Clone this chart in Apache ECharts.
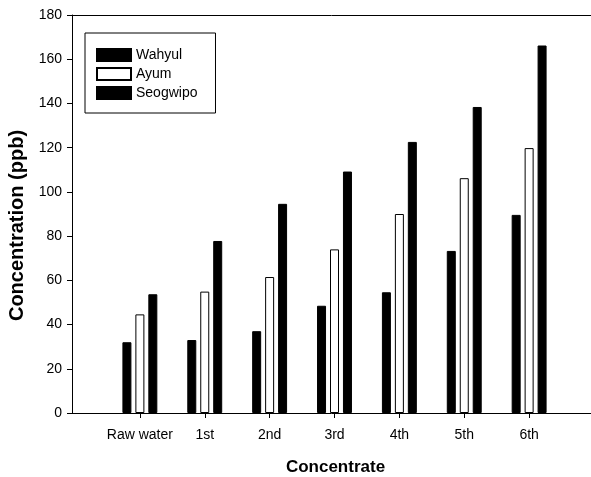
<!DOCTYPE html>
<html>
<head>
<meta charset="utf-8">
<script src="https://cdn.jsdelivr.net/npm/echarts@6/dist/echarts.min.js"></script>
<style>
html,body{margin:0;padding:0;background:#fff;}
#chart{width:591px;height:477px;}
</style>
</head>
<body>
<div id="chart"></div>
<script>
const categories = ["", "Raw water", "1st", "2nd", "3rd", "4th", "5th", "6th", ""];
const wahyul   = [null, 32, 33, 37, 48.5, 54.6, 73.3, 89.6, null];
const ayum     = [null, 44.6, 54.9, 61.5, 74, 90, 106.2, 119.8, null];
const seogwipo = [null, 53.7, 77.8, 94.6, 109.2, 122.6, 138.4, 166.2, null];
const yTicks = [0, 20, 40, 60, 80, 100, 120, 140, 160, 180];

const FONT = "Liberation Sans, Arial, sans-serif";
const chart = echarts.init(document.getElementById('chart'), null, {renderer: 'canvas'});
const hideEnds = (i) => i !== 0 && i !== categories.length - 1;
chart.setOption({
  animation: false,
  backgroundColor: '#fff',
  textStyle: {fontFamily: FONT},
  grid: [
    {left: 75, top: 15, right: -3, bottom: 64, containLabel: false, outerBoundsMode: 'none'},
    {left: 72, top: 15, right: 0, bottom: 64, containLabel: false, outerBoundsMode: 'none'}
  ],
  legend: {
    orient: 'vertical', left: 85, top: 33,
    padding: [15, 18, 13, 11],
    itemWidth: 34, itemHeight: 12, itemGap: 5,
    borderColor: '#000', borderWidth: 1,
    icon: 'rect',
    textStyle: {fontFamily: FONT, fontSize: 14, color: '#000'},
    data: ['Wahyul', 'Ayum', 'Seogwipo']
  },
  xAxis: [{
    gridIndex: 0, type: 'category', data: categories, boundaryGap: false,
    name: 'Concentrate', nameLocation: 'middle', nameGap: 46,
    nameTextStyle: {fontFamily: FONT, fontSize: 17, fontWeight: 'bold', color: '#000', padding: [0, 0, 0, 2]},
    axisLine: {show: false},
    axisTick: {show: true, length: 5, inside: false, interval: (i) => hideEnds(i), lineStyle: {color: '#000'}},
    axisLabel: {interval: (i) => hideEnds(i), margin: 15, fontFamily: FONT, fontSize: 14, color: '#000'},
    splitLine: {show: false}
  }, {
    gridIndex: 1, type: 'category', position: 'bottom', data: categories, boundaryGap: false,
    axisLine: {show: true, lineStyle: {color: '#000', width: 1}},
    axisTick: {show: false}, axisLabel: {show: false}, splitLine: {show: false}
  }, {
    gridIndex: 1, type: 'category', position: 'top', data: categories, boundaryGap: false,
    axisLine: {show: true, lineStyle: {color: '#000', width: 1}},
    axisTick: {show: false}, axisLabel: {show: false}, splitLine: {show: false}
  }],
  yAxis: [{
    gridIndex: 0, type: 'value', min: 0, max: 180, interval: 20, show: false
  }, {
    gridIndex: 1, type: 'value', min: 0, max: 180, interval: 20,
    name: 'Concentration (ppb)', nameLocation: 'middle', nameGap: 45,
    nameTextStyle: {fontFamily: FONT, fontSize: 20, fontWeight: 'bold', color: '#000', padding: [0, 23, 0, 0]},
    axisLine: {show: true, lineStyle: {color: '#000', width: 1}},
    axisTick: {show: true, length: 5, inside: false, lineStyle: {color: '#000'}},
    axisLabel: {margin: 10, fontFamily: FONT, fontSize: 14, color: '#000',
      formatter: (v) => yTicks.includes(v) ? String(v) : ''},
    splitLine: {show: false}
  }],
  series: [
    {name: 'Wahyul', type: 'bar', xAxisIndex: 0, yAxisIndex: 0, data: wahyul, barWidth: 9, barGap: '44%',
     itemStyle: {color: '#000', borderColor: '#000', borderWidth: 1}},
    {name: 'Ayum', type: 'bar', xAxisIndex: 0, yAxisIndex: 0, data: ayum, barWidth: 9, barGap: '44%',
     itemStyle: {color: '#fff', borderColor: '#000', borderWidth: 1}},
    {name: 'Seogwipo', type: 'bar', xAxisIndex: 0, yAxisIndex: 0, data: seogwipo, barWidth: 9, barGap: '44%',
     itemStyle: {color: '#000', borderColor: '#000', borderWidth: 1}}
  ]
});
</script>
</body>
</html>
